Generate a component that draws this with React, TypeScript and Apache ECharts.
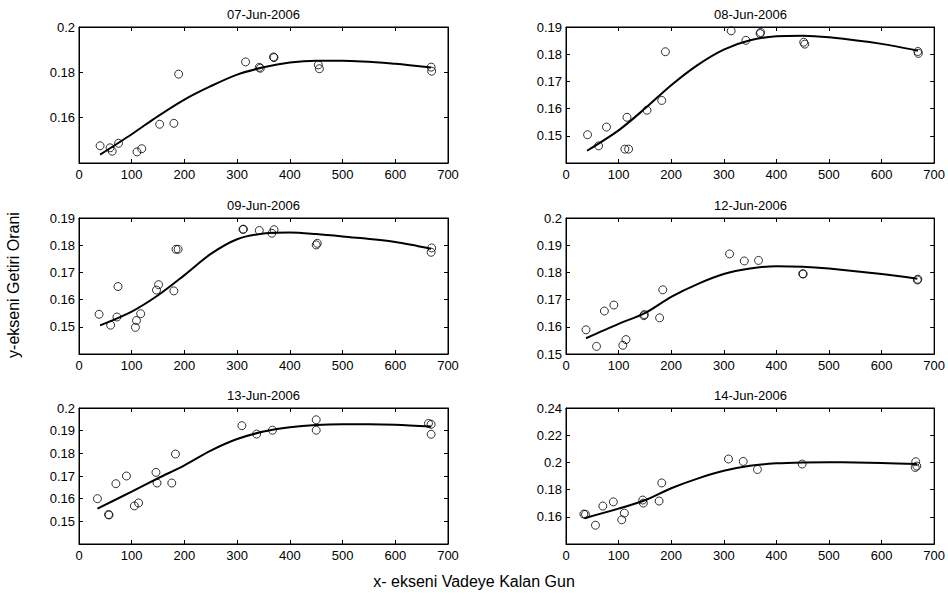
import React, { useEffect, useRef } from "react";
import * as echarts from "echarts";

// Trading dates, one panel each
const panelTitles = [
  "07-Jun-2006",
  "08-Jun-2006",
  "09-Jun-2006",
  "12-Jun-2006",
  "13-Jun-2006",
  "14-Jun-2006",
];

// Observed yields: days to maturity and yield
const jun07Days = [40, 59, 63, 75, 110, 119, 153, 180, 189, 316, 342, 344, 369, 370, 454, 456, 668, 669];
const jun07Yields = [0.1476, 0.1467, 0.1452, 0.1487, 0.1449, 0.1463, 0.1571, 0.1575, 0.1792, 0.1846, 0.1822, 0.1818, 0.1868, 0.1865, 0.1833, 0.1816, 0.1823, 0.1805];

const jun08Days = [41, 62, 77, 112, 119, 116, 154, 182, 189, 314, 342, 369, 370, 452, 454, 669, 670];
const jun08Yields = [0.1504, 0.1463, 0.1532, 0.1451, 0.1451, 0.1568, 0.1594, 0.163, 0.1809, 0.1886, 0.1851, 0.1876, 0.188, 0.1844, 0.1837, 0.181, 0.1803];

const jun09Days = [38, 60, 74, 72, 107, 109, 117, 147, 151, 180, 184, 188, 311, 312, 342, 366, 370, 450, 452, 668, 669];
const jun09Yields = [0.1546, 0.1506, 0.1648, 0.1536, 0.1498, 0.1523, 0.1548, 0.1635, 0.1655, 0.1632, 0.1785, 0.1785, 0.1858, 0.1859, 0.1854, 0.1844, 0.1857, 0.1801, 0.1807, 0.1774, 0.179];

const jun12Days = [38, 58, 73, 91, 108, 114, 148, 149, 178, 184, 311, 339, 366, 450, 451, 668, 669];
const jun12Yields = [0.1589, 0.1528, 0.1658, 0.168, 0.1532, 0.1553, 0.1641, 0.1645, 0.1633, 0.1736, 0.1868, 0.1842, 0.1844, 0.1795, 0.1794, 0.1772, 0.1775];

const jun13Days = [35, 56, 57, 70, 90, 105, 113, 146, 148, 176, 183, 309, 337, 367, 450, 450, 663, 668, 668];
const jun13Yields = [0.16, 0.153, 0.1528, 0.1666, 0.17, 0.1568, 0.1581, 0.1716, 0.1669, 0.1669, 0.1797, 0.1922, 0.1885, 0.1902, 0.1948, 0.1902, 0.1932, 0.1928, 0.1884];

const jun14Days = [34, 37, 56, 70, 90, 106, 111, 146, 147, 177, 182, 309, 337, 364, 449, 665, 664, 667];
const jun14Yields = [0.162, 0.1618, 0.1538, 0.1679, 0.171, 0.1578, 0.1627, 0.1723, 0.1701, 0.1716, 0.1849, 0.2025, 0.2007, 0.1948, 0.1988, 0.2005, 0.1963, 0.1973];

// Fitted yield curves
const jun07FitDays = [40, 100, 150, 200, 250, 300, 350, 400, 450, 500, 600, 668];
const jun07FitYields = [0.1437, 0.1527, 0.1607, 0.168, 0.1739, 0.179, 0.1822, 0.1843, 0.1851, 0.1851, 0.1838, 0.1821];

const jun08FitDays = [40, 100, 150, 200, 250, 300, 350, 400, 450, 500, 600, 669];
const jun08FitYields = [0.1445, 0.152, 0.16, 0.1686, 0.176, 0.1817, 0.1851, 0.1866, 0.1868, 0.1862, 0.1838, 0.1813];

const jun09FitDays = [40, 100, 150, 200, 250, 300, 350, 400, 450, 500, 600, 668];
const jun09FitYields = [0.1505, 0.1556, 0.1616, 0.169, 0.1768, 0.1822, 0.1843, 0.1847, 0.1841, 0.1832, 0.1812, 0.1787];

const jun12FitDays = [38, 100, 150, 200, 250, 300, 350, 400, 450, 500, 600, 668];
const jun12FitYields = [0.1558, 0.1611, 0.165, 0.171, 0.1757, 0.1794, 0.1814, 0.1823, 0.1821, 0.1814, 0.1794, 0.1777];

const jun13FitDays = [35, 100, 150, 200, 250, 300, 350, 400, 450, 500, 550, 600, 668];
const jun13FitYields = [0.1556, 0.1631, 0.169, 0.1747, 0.1812, 0.1863, 0.1896, 0.1915, 0.1925, 0.1928, 0.1928, 0.1926, 0.1918];

const jun14FitDays = [35, 100, 150, 200, 250, 300, 350, 400, 450, 500, 550, 600, 667];
const jun14FitYields = [0.159, 0.166, 0.1722, 0.181, 0.1881, 0.1938, 0.1975, 0.1993, 0.2, 0.2002, 0.2, 0.1995, 0.1988];

// Axis ranges per panel
const xMin = 0;
const xMax = 700;
const xStep = 100;
const yMins = [0.14, 0.14, 0.14, 0.15, 0.14, 0.14];
const yMaxs = [0.2, 0.19, 0.19, 0.2, 0.2, 0.24];
const ySteps = [0.02, 0.01, 0.01, 0.01, 0.01, 0.02];
const yShowMin = [false, false, false, true, false, false];

const obsDays = [jun07Days, jun08Days, jun09Days, jun12Days, jun13Days, jun14Days];
const obsYields = [jun07Yields, jun08Yields, jun09Yields, jun12Yields, jun13Yields, jun14Yields];
const fitDays = [jun07FitDays, jun08FitDays, jun09FitDays, jun12FitDays, jun13FitDays, jun14FitDays];
const fitYields = [jun07FitYields, jun08FitYields, jun09FitYields, jun12FitYields, jun13FitYields, jun14FitYields];

const yAxisTitle = "y-ekseni Getiri Orani";
const xAxisTitle = "x- ekseni Vadeye Kalan Gun";

const FONT = '"Liberation Sans", Arial, Helvetica, sans-serif';

const colLefts = [79, 566];
const rowTops = [27, 218, 408];
const gridW = 369;
const gridH = 136;

function buildOption() {
  const grids: any[] = [];
  const xAxes: any[] = [];
  const yAxes: any[] = [];
  const series: any[] = [];
  const graphics: any[] = [];

  for (let i = 0; i < 6; i++) {
    const left = colLefts[i % 2];
    const top = rowTops[Math.floor(i / 2)];
    grids.push({
      left,
      top,
      width: gridW,
      height: gridH,
      show: true,
      borderColor: "#000",
      borderWidth: 1,
      backgroundColor: "#fff",
    });

    const lineStyle = { color: "#000", width: 1 };
    const tick = { show: true, inside: true, length: 4, lineStyle };

    // bottom x axis with labels
    xAxes.push({
      type: "value",
      gridIndex: i,
      position: "bottom",
      min: xMin,
      max: xMax,
      interval: xStep,
      axisLine: { show: true, onZero: false, lineStyle },
      axisTick: tick,
      splitLine: { show: false },
      axisLabel: {
        show: true,
        color: "#000",
        fontSize: 13,
        fontFamily: FONT,
        margin: 5,
        showMinLabel: true,
        showMaxLabel: true,
      },
    });
    // top x axis, ticks only
    xAxes.push({
      type: "value",
      gridIndex: i,
      position: "top",
      min: xMin,
      max: xMax,
      interval: xStep,
      axisLine: { show: true, onZero: false, lineStyle },
      axisTick: tick,
      splitLine: { show: false },
      axisLabel: { show: false },
    });
    // left y axis with labels
    yAxes.push({
      type: "value",
      gridIndex: i,
      position: "left",
      min: yMins[i],
      max: yMaxs[i],
      interval: ySteps[i],
      axisLine: { show: true, onZero: false, lineStyle },
      axisTick: tick,
      splitLine: { show: false },
      axisLabel: {
        show: true,
        color: "#000",
        fontSize: 13,
        fontFamily: FONT,
        margin: 4,
        showMinLabel: yShowMin[i],
        showMaxLabel: true,
        formatter: (v: number) => String(parseFloat(v.toFixed(4))),
      },
    });
    // right y axis, ticks only
    yAxes.push({
      type: "value",
      gridIndex: i,
      position: "right",
      min: yMins[i],
      max: yMaxs[i],
      interval: ySteps[i],
      axisLine: { show: true, onZero: false, lineStyle },
      axisTick: tick,
      splitLine: { show: false },
      axisLabel: { show: false },
    });

    series.push({
      type: "line",
      xAxisIndex: i * 2,
      yAxisIndex: i * 2,
      data: fitDays[i].map((d, k) => [d, fitYields[i][k]]),
      smooth: 0.3,
      showSymbol: false,
      symbol: "none",
      lineStyle: { color: "#000", width: 2 },
      z: 3,
    });
    series.push({
      type: "scatter",
      xAxisIndex: i * 2,
      yAxisIndex: i * 2,
      data: obsDays[i].map((d, k) => [d, obsYields[i][k]]),
      symbol: "circle",
      symbolSize: 8,
      itemStyle: { color: "transparent", borderColor: "#000", borderWidth: 1 },
      z: 4,
    });

    graphics.push({
      type: "text",
      x: left + gridW / 2,
      y: top - 13,
      style: {
        text: panelTitles[i],
        fill: "#000",
        fontSize: 13,
        fontWeight: "normal",
        fontFamily: FONT,
        textAlign: "center",
        textVerticalAlign: "middle",
      },
    });
  }

  graphics.push({
    type: "text",
    x: 13,
    y: 285,
    rotation: Math.PI / 2,
    style: {
      text: yAxisTitle,
      fill: "#000",
      fontSize: 16,
      fontWeight: "normal",
      fontFamily: FONT,
      textAlign: "center",
      textVerticalAlign: "middle",
    },
  });
  graphics.push({
    type: "text",
    x: 474,
    y: 581,
    style: {
      text: xAxisTitle,
      fill: "#000",
      fontSize: 16,
      fontWeight: "normal",
      fontFamily: FONT,
      textAlign: "center",
      textVerticalAlign: "middle",
    },
  });

  return {
    animation: false,
    backgroundColor: "#fff",
    grid: grids,
    xAxis: xAxes,
    yAxis: yAxes,
    series,
    graphic: graphics,
  };
}

export default function App() {
  const ref = useRef<HTMLDivElement>(null);

  useEffect(() => {
    if (!ref.current) return;
    const chart = echarts.init(ref.current, undefined, { renderer: "svg" });
    chart.setOption(buildOption() as any);
    return () => chart.dispose();
  }, []);

  return (
    <div
      ref={ref}
      style={{ position: "absolute", left: 0, top: 0, width: 948, height: 597, background: "#fff" }}
    />
  );
}
